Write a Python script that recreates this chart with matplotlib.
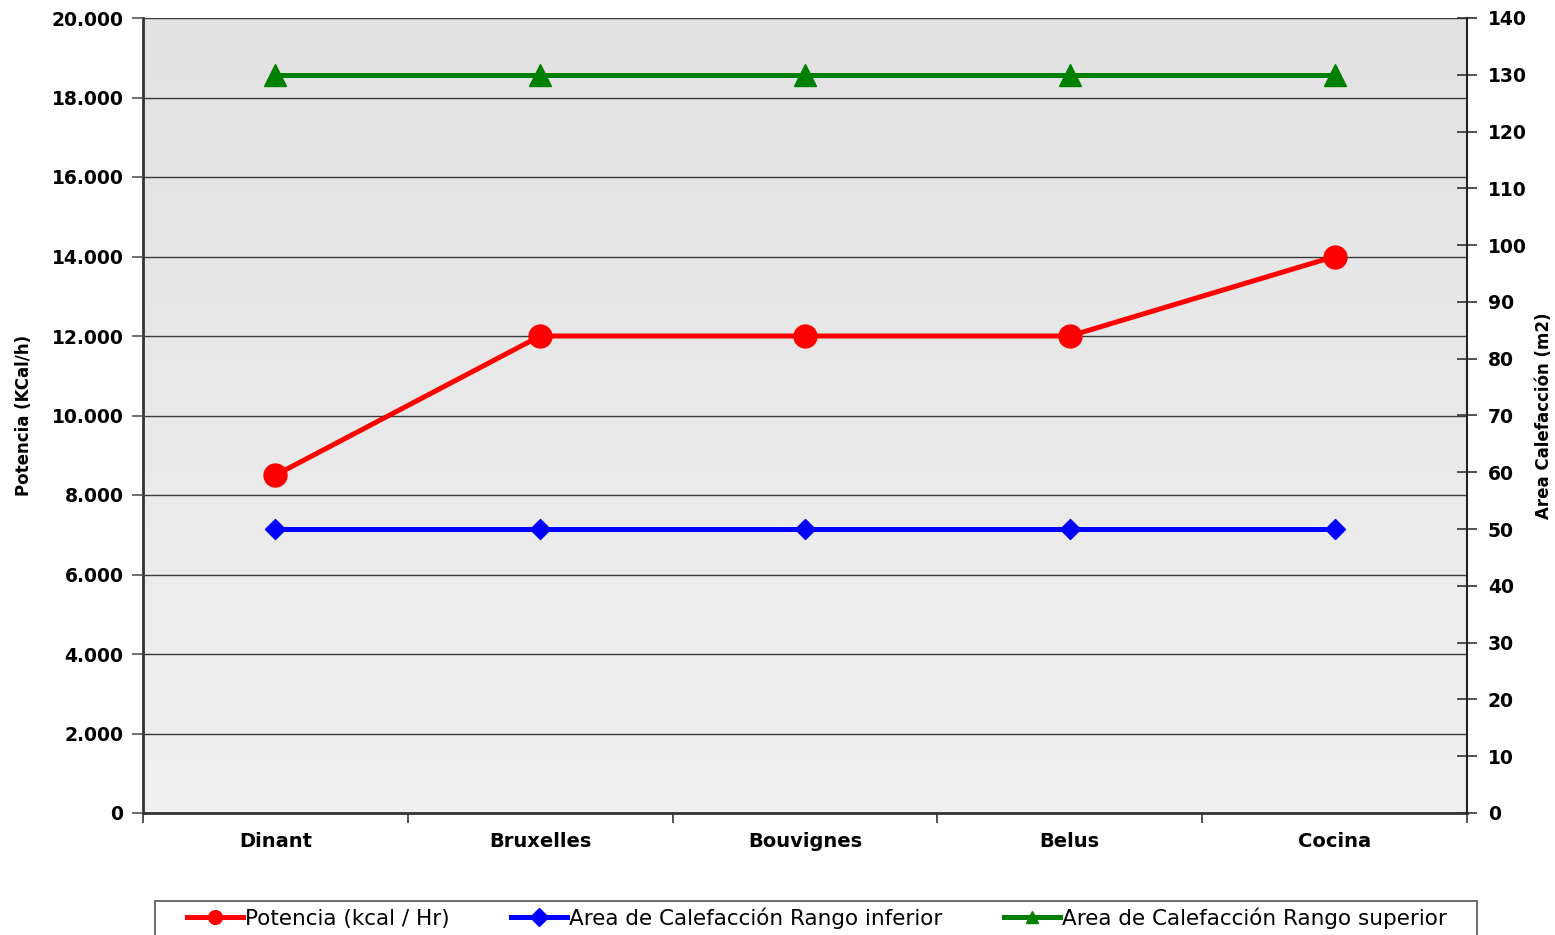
import numpy as np
import matplotlib
matplotlib.use("Agg")
import matplotlib.pyplot as plt
from matplotlib.colors import LinearSegmentedColormap
from matplotlib.ticker import FuncFormatter, MultipleLocator, FixedLocator
from matplotlib.patches import Rectangle

# Data
categorias = ["Dinant", "Bruxelles", "Bouvignes", "Belus", "Cocina"]
potencia = [8500, 12000, 12000, 12000, 14000]            # kcal/h (left axis)
area_inferior = [50, 50, 50, 50, 50]                     # m2 (right axis)
area_superior = [130, 130, 130, 130, 130]                # m2 (right axis)

plt.rcParams["font.family"] = ["DejaVu Sans"]

W, H = 1555, 935
fig = plt.figure(figsize=(W / 100, H / 100), dpi=100)
ax = fig.add_axes([143 / W, 1 - 813 / H, (1467 - 143) / W, (813 - 18) / H])

x = np.arange(len(categorias))

# Gradient plot background
cmap = LinearSegmentedColormap.from_list("bg", ["#f0f0f0", "#e2e2e2"])
grad = np.linspace(0, 1, 256).reshape(-1, 1)
ax.imshow(grad, extent=[-0.5, 4.5, 0, 20000], origin="lower", aspect="auto",
          cmap=cmap, zorder=0)

ax.set_xlim(-0.5, 4.5)
ax.set_ylim(0, 20000)

# Left axis
ax.yaxis.set_major_locator(MultipleLocator(2000))
ax.yaxis.set_major_formatter(FuncFormatter(lambda v, p: f"{int(v):,}".replace(",", ".")))
ax.grid(axis="y", color="#3a3a3a", linewidth=1.0, zorder=1)
ax.set_axisbelow(False)
ax.tick_params(axis="y", direction="out", length=8, width=1.2, color="#555555",
               pad=6, labelsize=13.5)
for lbl in ax.get_yticklabels():
    lbl.set_fontweight("bold")

# Category axis: ticks at boundaries, labels at centres
ax.xaxis.set_major_locator(FixedLocator(x))
ax.set_xticklabels(categorias, fontsize=14, fontweight="bold")
ax.xaxis.set_minor_locator(FixedLocator(np.arange(-0.5, 5.0, 1.0)))
ax.tick_params(axis="x", which="major", length=0, pad=14)
ax.tick_params(axis="x", which="minor", direction="out", length=7, width=1.2,
               color="#333333")

for side in ["left", "bottom"]:
    ax.spines[side].set_color("#333333")
    ax.spines[side].set_linewidth(2)
ax.spines["top"].set_visible(False)
ax.spines["right"].set_visible(False)

ax.set_ylabel("Potencia (KCal/h)", fontsize=12, fontweight="bold", labelpad=13)

# Right axis
ax2 = ax.twinx()
ax2.set_ylim(0, 140)
ax2.yaxis.set_major_locator(MultipleLocator(10))
ax2.tick_params(axis="y", direction="inout", length=14, width=1.2, color="#333333",
                pad=8, labelsize=13.5)
for lbl in ax2.get_yticklabels():
    lbl.set_fontweight("bold")
for side in ["left", "top", "bottom"]:
    ax2.spines[side].set_visible(False)
ax2.spines["right"].set_color("#222222")
ax2.spines["right"].set_linewidth(1.5)
ax2.set_ylabel("Area Calefacción (m2)", fontsize=12, fontweight="bold",
               rotation=90, labelpad=6)

# Series
l1, = ax.plot(x, potencia, color="#ff0000", linewidth=3.6, marker="o",
              markersize=16.5, zorder=5, label="Potencia (kcal / Hr)")
l2, = ax2.plot(x, area_inferior, color="#0000ff", linewidth=3.6, marker="D",
               markersize=10.5, zorder=5, label="Area de Calefacción Rango inferior")
l3, = ax2.plot(x, area_superior, color="#008000", linewidth=3.6, marker="^",
               markersize=15.5, zorder=5, label="Area de Calefacción Rango superior")

# Legend frame and entries
fig.patches.append(Rectangle((155 / W, -0.05), (1477 - 155) / W, 0.05 + (1 - 901 / H),
                             transform=fig.transFigure, facecolor="white",
                             edgecolor="#555555", linewidth=1.2))
leg = fig.legend(handles=[l1, l2, l3], loc="center left",
                 bbox_to_anchor=(187 / W, 1 - 918 / H), ncol=3, frameon=False,
                 fontsize=15.5, handlelength=2.6, handletextpad=0.1,
                 columnspacing=2.85, borderpad=0, borderaxespad=0, markerscale=0.6)
for h in leg.legend_handles:
    if h.get_marker() == "D":
        h.set_markersize(9)

fig.savefig("out.png", dpi=100)
